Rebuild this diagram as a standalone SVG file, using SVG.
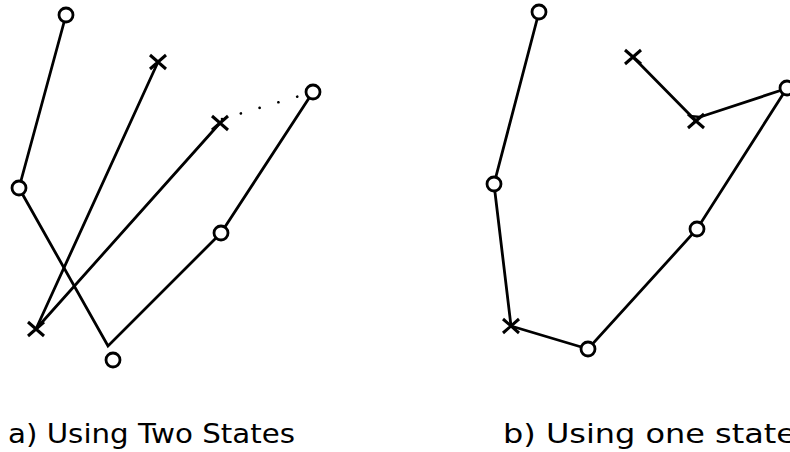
<svg xmlns="http://www.w3.org/2000/svg" width="790" height="452" viewBox="0 0 790 452">
  <style>
    .edge { stroke: #000; stroke-width: 2.8; fill: none; stroke-linecap: round; }
    .dots { stroke: #000; stroke-width: 2.6; fill: none; stroke-linecap: round; stroke-dasharray: 0.1 19.5; }
    .ring { stroke: #000; stroke-width: 2.8; fill: #fff; }
    .cross { stroke: #000; stroke-width: 3; fill: none; }
    .caption { font-family: "DejaVu Sans", "Liberation Sans", sans-serif; font-size: 27px; fill: #000; }
  </style>
  <defs>
    <g id="xmark"><path class="cross" d="M-8,-7 L8,7 M-8,7 L8,-7"/></g>
    <g id="omark"><circle class="ring" r="7"/></g>
    <marker id="head" markerWidth="12" markerHeight="12" refX="1" refY="5" orient="auto" markerUnits="userSpaceOnUse" viewBox="0 0 12 10">
      <path d="M11,0.5 L1,5 L11,9.5" stroke="#000" stroke-width="2.4" fill="none"/>
    </marker>
  </defs>

  <!-- left panel connectors -->
  <g id="connectors-a">
    <line class="edge" x1="66" y1="15" x2="19" y2="188"/>
    <polyline class="edge" points="19,188 108,346 221,233"/>
    <line class="edge" x1="221" y1="233" x2="313" y2="92"/>
    <line class="edge" x1="36" y1="329" x2="158" y2="62"/>
    <line class="edge" x1="36" y1="329" x2="220" y2="123"/>
    <line class="dots" x1="222" y1="119" x2="313" y2="92"/>
  </g>

  <!-- left panel nodes -->
  <g id="a-o1"><use href="#omark" x="66" y="15"/></g>
  <g id="a-x1"><use href="#xmark" x="158" y="62"/></g>
  <g id="a-o2"><use href="#omark" x="313" y="92"/></g>
  <g id="a-x2"><use href="#xmark" x="220" y="123"/></g>
  <g id="a-o3"><use href="#omark" x="19" y="188"/></g>
  <g id="a-o4"><use href="#omark" x="221" y="233"/></g>
  <g id="a-x3"><use href="#xmark" x="36" y="329"/></g>
  <g id="a-o5"><use href="#omark" x="113" y="360"/></g>

  <!-- right panel connectors -->
  <g id="connectors-b">
    <polyline class="edge" points="539,12 494,184 511,326 588,349 697,229 787,88"/>
    <line class="edge" x1="633" y1="57" x2="696" y2="121"/>
    <line class="edge" x1="785" y1="89" x2="700" y2="117" marker-end="url(#head)"/>
  </g>

  <!-- right panel nodes -->
  <g id="b-o1"><use href="#omark" x="539" y="12"/></g>
  <g id="b-x1"><use href="#xmark" x="633" y="57"/></g>
  <g id="b-x2"><use href="#xmark" x="696" y="121"/></g>
  <g id="b-o2"><use href="#omark" x="787" y="88"/></g>
  <g id="b-o3"><use href="#omark" x="494" y="184"/></g>
  <g id="b-o4"><use href="#omark" x="697" y="229"/></g>
  <g id="b-x3"><use href="#xmark" x="511" y="326"/></g>
  <g id="b-o5"><use href="#omark" x="588" y="349"/></g>

  <!-- captions -->
  <text class="caption" x="8" y="443" textLength="287" lengthAdjust="spacingAndGlyphs">a) Using Two States</text>
  <text class="caption" x="503" y="443" textLength="293" lengthAdjust="spacingAndGlyphs">b) Using one state</text>
</svg>
